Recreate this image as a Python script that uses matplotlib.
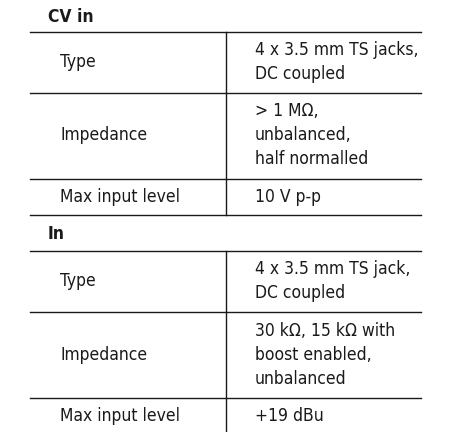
import matplotlib.pyplot as plt

# sections: (title, [(label, value lines), ...])
section_titles = ["CV in", "In"]
row_labels = [
    ["Type", "Impedance", "Max input level"],
    ["Type", "Impedance", "Max input level"],
]
row_values = [
    [["4 x 3.5 mm TS jacks,", "DC coupled"],
     ["> 1 MΩ,", "unbalanced,", "half normalled"],
     ["10 V p-p"]],
    [["4 x 3.5 mm TS jack,", "DC coupled"],
     ["30 kΩ, 15 kΩ with", "boost enabled,", "unbalanced"],
     ["+19 dBu"]],
]

plt.rcParams['font.family'] = ['DejaVu Sans']
plt.rcParams['font.stretch'] = 'condensed'

fig = plt.figure(figsize=(4.5, 4.32), dpi=100)
ax = fig.add_axes([0, 0, 1, 1])
ax.set_xlim(0, 450)
ax.set_ylim(432, 0)
ax.axis('off')

x0, x1, xdiv = 30, 421, 225.5
line_h = 24
title_hs = [31.5, 36.5]
fs = 12.5
lc = "#1a1a1a"

y = 0
for title, title_h, labels, values in zip(section_titles, title_hs, row_labels, row_values):
    ax.text(48, y + title_h / 2 + 1, title, fontsize=fs, fontweight='bold',
            va='center', ha='left', color=lc, fontstretch='condensed')
    y += title_h
    ax.plot([x0, x1], [y, y], color=lc, lw=1)
    for label, vals in zip(labels, values):
        h = 11 + 25 * len(vals) if len(vals) > 1 else 36
        ax.text(60, y + h / 2, label, fontsize=fs, va='center', ha='left',
                color=lc, fontstretch='condensed')
        top = y + h / 2 - line_h * (len(vals) - 1) / 2
        for k, v in enumerate(vals):
            ax.text(255, top + k * line_h, v, fontsize=fs, va='center', ha='left',
                    color=lc, fontstretch='condensed')
        ax.plot([xdiv, xdiv], [y, min(y + h, 432)], color=lc, lw=1)
        y += h
        if y < 430:
            ax.plot([x0, x1], [y, y], color=lc, lw=1)

fig.savefig("out.png", dpi=100)
